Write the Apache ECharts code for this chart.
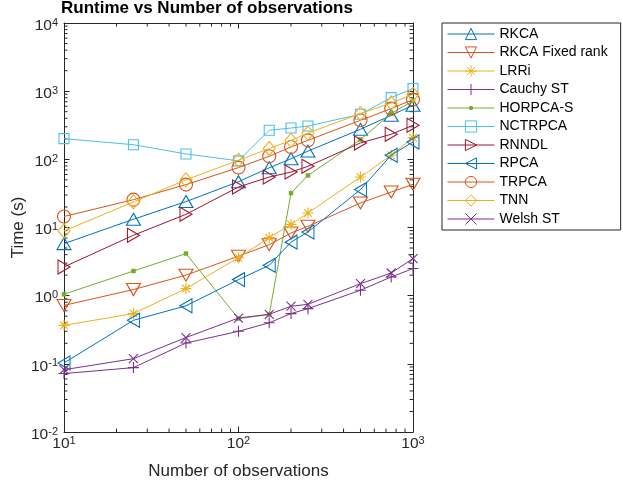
<!DOCTYPE html>
<html><head><meta charset="utf-8">
<script src="https://cdn.jsdelivr.net/npm/echarts@6/dist/echarts.min.js"></script>
<style>html,body{margin:0;padding:0;background:#fff}#c{width:623px;height:482px}</style>
</head><body><div id="c"></div>
<script>
// ---- data ----
const observations = [10, 25, 50, 100, 150, 200, 250, 500, 750, 1000];
const rkca      = [5.8, 13.2, 24, 47, 75, 102, 132, 276, 442, 621];
const rkcaFixed = [0.72, 1.23, 2.0, 3.8, 5.6, 8.3, 10.4, 22.9, 33.2, 43];
const lrri      = [0.367, 0.546, 1.27, 3.6, 7.1, 11.1, 16.3, 55, 115, 208];
const cauchyST  = [0.072, 0.088, 0.202, 0.30, 0.40, 0.546, 0.645, 1.2, 1.88, 2.5];
const horpcaS   = [1.05, 2.3, 4.14, 0.46, 0.53, 32, 58, 195, 470, 720];
const nctrpca   = [201, 164, 120, 95, 267, 288, 308, 458, 805, 1090];
const rnndl     = [2.64, 7.7, 15.6, 39.3, 55, 65, 79, 174, 233, 316];
const rpca      = [0.103, 0.435, 0.71, 1.72, 2.79, 6.1, 8.6, 36, 115, 180];
const trpca     = [14.5, 25.6, 42.6, 75.6, 111, 152, 190, 374, 555, 752];
const tnn       = [8.9, 23.7, 50, 97, 144, 190, 243, 469, 670, 900];
const welshST   = [0.082, 0.119, 0.243, 0.47, 0.533, 0.70, 0.747, 1.50, 2.15, 3.5];
const seriesNames = ['RKCA','RKCA Fixed rank','LRRi','Cauchy ST','HORPCA-S','NCTRPCA','RNNDL','RPCA','TRPCA','TNN','Welsh ST'];
const seriesValues = [rkca, rkcaFixed, lrri, cauchyST, horpcaS, nctrpca, rnndl, rpca, trpca, tnn, welshST];
const xRange = [10, 1000];
const yRange = [0.01, 10000];
const titleText = 'Runtime vs Number of observations';
const xName = 'Number of observations';
const yName = 'Time (s)';

// ---- styling ----
const FONT = '"Liberation Sans", Arial, Helvetica, sans-serif';
const AX = '#262626';
const colors = ['#0072BD','#D95319','#EDB120','#7E2F8E','#77AC30','#4DBEEE','#A2142F','#0072BD','#D95319','#EDB120','#7E2F8E'];
const SYM = {
  up: 'path://M5,0L10,8.66L0,8.66Z',
  down: 'path://M0,0L10,0L5,8.66Z',
  right: 'path://M0,0L8.66,5L0,10Z',
  left: 'path://M8.66,0L0,5L8.66,10Z',
  square: 'path://M0,0L10,0L10,10L0,10Z',
  diamond: 'path://M5,0L10,5L5,10L0,5Z',
  plus: 'path://M5,0L5,10M0,5L10,5',
  cross: 'path://M0,0L10,10M10,0L0,10',
  star: 'path://M5,0L5,10M0,5L10,5M1.5,1.5L8.5,8.5M8.5,1.5L1.5,8.5',
  dot: 'path://M0,0M16,16M6,6L10,6L10,10L6,10Z',
  circle: 'circle'
};
const markers = [
  [SYM.up,[14,12]],[SYM.down,[14,12]],[SYM.star,11],[SYM.plus,11],[SYM.dot,16],
  [SYM.square,10],[SYM.right,[12,14]],[SYM.left,[12,14]],[SYM.circle,13],[SYM.diamond,[12,14]],[SYM.cross,9]
];

const lineSeries = seriesNames.map((name, i) => ({
  name, type: 'line',
  data: observations.map((x, j) => [x, seriesValues[i][j]]),
  symbol: markers[i][0], symbolSize: markers[i][1], showAllSymbol: true,
  lineStyle: { color: colors[i], width: 1 },
  itemStyle: name === 'HORPCA-S'
    ? { color: colors[i], borderColor: colors[i], borderWidth: 0.5 }
    : { color: 'rgba(0,0,0,0)', borderColor: colors[i], borderWidth: 1.1 },
  emphasis: { disabled: true },
  z: 3 + i
}));

// minor tick positions (MATLAB style 2..9 per decade)
const xMinor = [], yMinor = [];
[10, 100].forEach(d => { for (let k = 2; k <= 9; k++) xMinor.push([k * d, 1]); });
[0.01, 0.1, 1, 10, 100, 1000].forEach(d => { for (let k = 2; k <= 9; k++) yMinor.push([10, k * d]); });
const ML = 3.5;
function lineEl(x1, y1, x2, y2) { return { type: 'line', shape: { x1, y1, x2, y2 }, style: { stroke: AX, lineWidth: 1 } }; }
const minorSeries = [
  { type: 'custom', silent: true, z: 2, data: xMinor,
    renderItem: (p, api) => { const cs = p.coordSys; const x = api.coord([api.value(0), 1])[0];
      return { type: 'group', children: [lineEl(x, cs.y + cs.height, x, cs.y + cs.height - ML), lineEl(x, cs.y, x, cs.y + ML)] }; } },
  { type: 'custom', silent: true, z: 2, data: yMinor,
    renderItem: (p, api) => { const cs = p.coordSys; const y = api.coord([10, api.value(1)])[1];
      return { type: 'group', children: [lineEl(cs.x, y, cs.x + ML, y), lineEl(cs.x + cs.width, y, cs.x + cs.width - ML, y)] }; } }
];

const rich = {
  b: { fontSize: 15.5, lineHeight: 12, padding: [5, 0, 0, 0], fontFamily: FONT, color: AX },
  s: { fontSize: 11, lineHeight: 8, verticalAlign: 'top', fontFamily: FONT, color: AX }
};
const fmt = v => '{b|10}{s|' + Math.round(Math.log10(v)) + '}';
const baseAxis = {
  type: 'log', logBase: 10,
  axisLine: { show: true, onZero: false, lineStyle: { color: AX, width: 1 } },
  axisTick: { show: true, inside: true, length: 5.5, lineStyle: { color: AX, width: 1 } },
  splitLine: { show: false }, minorTick: { show: false }, minorSplitLine: { show: false }
};

const chart = echarts.init(document.getElementById('c'), null, { renderer: 'canvas' });
chart.setOption({
  animation: false,
  backgroundColor: '#fff',
  title: { text: titleText, left: 61, top: 0, padding: 0,
    textStyle: { fontSize: 17, fontWeight: 'bold', color: '#000', fontFamily: FONT } },
  grid: { left: 64, right: 210, top: 23, bottom: 50, containLabel: false, outerBoundsMode: 'none' },
  legend: {
    orient: 'vertical', left: 442, top: 23, padding: [4, 13, 4, 5], itemGap: 4.5,
    itemWidth: 47, itemHeight: 14, selectedMode: false,
    backgroundColor: '#fff', borderColor: AX, borderWidth: 1, borderRadius: 0,
    lineStyle: { width: 1 },
    itemStyle: { borderWidth: 1 },
    textStyle: { fontSize: 14, color: '#000', fontFamily: FONT },
    data: seriesNames
  },
  xAxis: [
    Object.assign({}, baseAxis, { min: xRange[0], max: xRange[1], position: 'bottom',
      name: xName, nameLocation: 'middle', nameGap: 31, nameMoveOverlap: false,
      nameTextStyle: { fontSize: 17, color: AX, fontFamily: FONT },
      axisLabel: { show: true, margin: 3, formatter: fmt, rich, hideOverlap: false, showMinLabel: true, showMaxLabel: true } }),
    Object.assign({}, baseAxis, { min: xRange[0], max: xRange[1], position: 'top', axisLabel: { show: false } })
  ],
  yAxis: [
    Object.assign({}, baseAxis, { min: yRange[0], max: yRange[1], position: 'left', splitNumber: 6,
      name: yName, nameLocation: 'middle', nameGap: 37, nameMoveOverlap: false,
      nameTextStyle: { fontSize: 17, color: AX, fontFamily: FONT },
      axisLabel: { show: true, margin: 6, formatter: fmt, rich, hideOverlap: false, showMinLabel: true, showMaxLabel: true } }),
    Object.assign({}, baseAxis, { min: yRange[0], max: yRange[1], position: 'right', splitNumber: 6, axisLabel: { show: false } })
  ],
  series: minorSeries.concat(lineSeries)
});
</script></body></html>
